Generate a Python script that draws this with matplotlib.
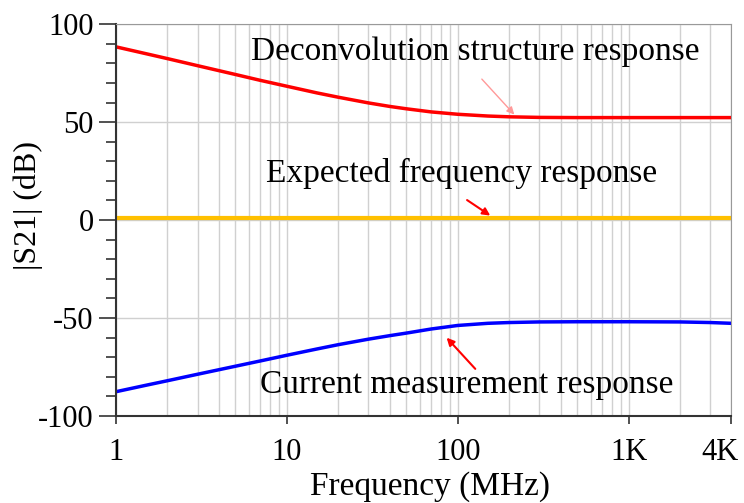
import matplotlib.pyplot as plt
import matplotlib.transforms as mtransforms
from matplotlib.ticker import FixedLocator, MultipleLocator, LogLocator, NullFormatter

plt.rcParams['font.family'] = ['Liberation Serif', 'DejaVu Serif']
plt.rcParams['axes.unicode_minus'] = False

# frequency points (MHz)
freq = [1, 1.5, 2, 3, 5, 7, 10, 15, 20, 30, 40, 50, 70, 100, 150, 200, 300, 500, 1000, 2000, 3000, 4000]
deconv = [88.4, 84.9, 82.4, 78.8, 74.3, 71.3, 68.3, 64.9, 62.7, 59.8, 58.0, 56.8, 55.2, 54.0, 53.1, 52.7,
          52.4, 52.3, 52.3, 52.3, 52.3, 52.3]
current = [-87.6, -84.3, -82.0, -78.7, -74.6, -71.9, -69.0, -65.8, -63.6, -60.8, -59.0, -57.7, -55.6, -53.8,
           -52.7, -52.3, -52.0, -51.9, -51.9, -52.0, -52.3, -52.7]
expected = [0.8] * len(freq)

xticks = [1, 10, 100, 1000, 4000]
xlabels = ['1', '10', '100', '1K', '4K']

fig = plt.figure(figsize=(7.44, 5.03), dpi=100)
ax = fig.add_axes([0.156, 0.173, 0.827, 0.779])

ax.plot(freq, deconv, color='#ff0000', lw=2.5)
ax.plot(freq, expected, color='#ffc000', lw=3)
ax.plot(freq, current, color='#0000ff', lw=2.5)

ax.set_xscale('log')
ax.set_xlim(1, 4000)
ax.set_ylim(-100, 100)

ax.xaxis.set_major_locator(FixedLocator(xticks))
ax.set_xticklabels(xlabels)
ax.xaxis.set_minor_locator(LogLocator(base=10, subs=range(2, 10)))
ax.xaxis.set_minor_formatter(NullFormatter())
ax.yaxis.set_major_locator(MultipleLocator(50))
ax.yaxis.set_minor_locator(MultipleLocator(10))

# vertical grid at every decade step, horizontal only at the big ticks
ax.grid(True, which='both', axis='x', color='#d0d0d0', lw=1)
ax.grid(True, which='major', axis='y', color='#d0d0d0', lw=1)
ax.set_axisbelow(True)

ax.tick_params(axis='y', which='major', length=12, width=1.2, labelsize=22, pad=4, color='#333333')
ax.tick_params(axis='y', which='minor', length=7, width=1.2, color='#333333')
ax.tick_params(axis='x', which='major', length=6, width=1.2, labelsize=22, pad=10, color='#333333')
ax.tick_params(axis='x', which='minor', length=0)

# the 4K label sits a bit left of its tick
lbl = ax.get_xticklabels()[-1]
lbl.set_transform(lbl.get_transform() + mtransforms.ScaledTranslation(-11 / 100, 0, fig.dpi_scale_trans))

for s in ['left', 'bottom']:
    ax.spines[s].set_color('#333333')
    ax.spines[s].set_linewidth(1.5)
for s in ['top', 'right']:
    ax.spines[s].set_color('#999999')

ax.set_xlabel('Frequency (MHz)', fontsize=24)
ax.xaxis.set_label_coords(0.51, -0.14)
ax.set_ylabel('|S21| (dB)', fontsize=23)
ax.yaxis.set_label_coords(-0.119, 0.536)

# annotations
ax.annotate('', xy=(220, 52.8), xytext=(135, 73),
            arrowprops=dict(arrowstyle='-|>', color='#ff9999', lw=1,
                            mutation_scale=11))
ax.text(126, 85.7, 'Deconvolution structure response', fontsize=24,
        ha='center', va='center')

ax.annotate('', xy=(160, 1.5), xytext=(110, 11),
            arrowprops=dict(arrowstyle='-|>', color='#ff0000', lw=1.5,
                            mutation_scale=11))
ax.text(105, 24, 'Expected frequency response', fontsize=24,
        ha='center', va='center')

ax.annotate('', xy=(84, -59), xytext=(130, -77),
            arrowprops=dict(arrowstyle='-|>', color='#ff0000', lw=1.5,
                            mutation_scale=11))
ax.text(113, -84, 'Current measurement response', fontsize=24,
        ha='center', va='center')

fig.savefig('out.png', dpi=100)
